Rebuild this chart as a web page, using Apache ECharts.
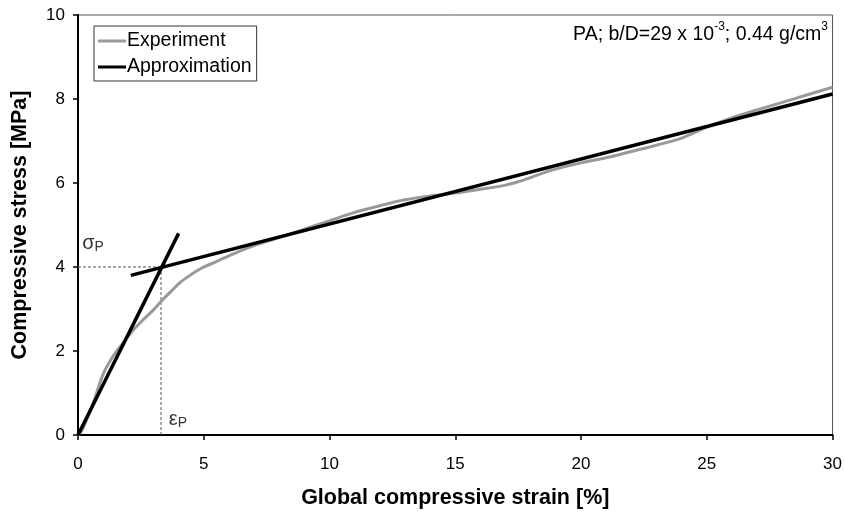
<!DOCTYPE html>
<html>
<head>
<meta charset="utf-8">
<script src="https://cdn.jsdelivr.net/npm/echarts@6/dist/echarts.min.js"></script>
<style>html,body{margin:0;padding:0;background:#fff}#c{width:845px;height:514px}</style>
</head>
<body>
<div id="c"></div>
<script>
var xTicks = [0, 5, 10, 15, 20, 25, 30];
var yTicks = [0, 2, 4, 6, 8, 10];
var experiment = [[0,0],[0.15,0.1],[0.3,0.3],[0.6,0.75],[1.0,1.45],[1.4,1.88],[1.8,2.2],[2.2,2.5],[2.6,2.75],[3.0,2.98],[3.3,3.18],[3.7,3.42],[4.1,3.65],[4.5,3.82],[4.9,3.97],[5.5,4.13],[6.2,4.32],[7.0,4.51],[8.0,4.7],[9.0,4.9],[10.0,5.1],[11.0,5.3],[12.0,5.46],[13.0,5.6],[14.0,5.69],[15.0,5.76],[16.0,5.85],[17.0,5.95],[17.5,6.03],[18.0,6.13],[18.8,6.3],[20.0,6.48],[21.0,6.6],[22.0,6.75],[23.0,6.9],[24.0,7.07],[25.0,7.33],[26.0,7.55],[27.0,7.74],[28.0,7.92],[29.0,8.1],[30.0,8.28]];
var approxElastic = [[0,0],[4.0,4.8]];
var approxPlastic = [[2.1,3.8],[30,8.12]];
var sigmaP = 4.0;
var epsP = 3.3;
var guideH = [[0, sigmaP],[epsP, sigmaP]];
var guideV = [[epsP, 0],[epsP, sigmaP]];

var chart = echarts.init(document.getElementById('c'));
var font = 'Liberation Sans, Arial, sans-serif';
chart.setOption({
  animation: false,
  textStyle: {fontFamily: font},
  grid: {left: 78, right: 12, top: 15, bottom: 76, show: true, borderColor: '#555', borderWidth: 1, backgroundColor: 'transparent'},
  legend: {
    left: 94, top: 26, orient: 'vertical', itemGap: 6,
    borderColor: '#333', borderWidth: 1, padding: [5, 5, 4, 4],
    itemWidth: 28, itemHeight: 3, icon: 'rect',
    textStyle: {fontSize: 19.5, color: '#000', fontFamily: font, padding: [0,0,0,-4]},
    data: ['Experiment', 'Approximation']
  },
  xAxis: {
    type: 'value', min: 0, max: 30, interval: 5,
    name: 'Global compressive strain [%]', nameLocation: 'middle', nameGap: 52,
    nameTextStyle: {fontSize: 21.5, fontWeight: 'bold', color: '#000', fontFamily: font},
    axisLine: {show: true, lineStyle: {color: '#000', width: 2}},
    axisTick: {show: true, length: 5, lineStyle: {color: '#000', width: 1.5}},
    axisLabel: {fontSize: 17, color: '#000', margin: 21, fontFamily: font, showMaxLabel: true,
      formatter: function (v) { return xTicks.indexOf(v) >= 0 ? String(v) : ''; }},
    splitLine: {show: false}
  },
  yAxis: {
    type: 'value', min: 0, max: 10, interval: 2,
    name: 'Compressive stress [MPa]', nameLocation: 'middle', nameGap: 47,
    nameTextStyle: {fontSize: 21.5, fontWeight: 'bold', color: '#000', fontFamily: font},
    axisLine: {show: true, lineStyle: {color: '#000', width: 2}},
    axisTick: {show: true, length: 5, lineStyle: {color: '#000', width: 1.5}},
    axisLabel: {fontSize: 17, color: '#000', margin: 13, fontFamily: font,
      formatter: function (v) { return yTicks.indexOf(v) >= 0 ? String(v) : ''; }},
    splitLine: {show: false}
  },
  graphic: [
    {type: 'text', right: 17, top: 21, style: {
      text: '{a|PA; b/D=29 x 10}{s|-3}{a|; 0.44 g/cm}{s|3}',
      rich: {a: {fontSize: 19.5, fontFamily: font, fill: '#000', verticalAlign: 'bottom', lineHeight: 24},
             s: {fontSize: 12, fontFamily: font, fill: '#000', verticalAlign: 'top', lineHeight: 24, padding: [0,0,12,0]}}
    }}
  ],
  series: [
    {name: 'guideH', type: 'line', data: guideH, symbol: 'none', silent: true, z: 1,
     lineStyle: {color: '#555', width: 1, type: [3, 2]}},
    {name: 'guideV', type: 'line', data: guideV, symbol: 'none', silent: true, z: 1,
     lineStyle: {color: '#555', width: 1, type: [3, 2]}},
    {name: 'Experiment', type: 'line', data: experiment, symbol: 'none', smooth: 0.3, z: 2,
     color: '#999', lineStyle: {color: '#999', width: 3}},
    {name: 'Approximation', type: 'line', data: approxElastic, symbol: 'none', z: 3,
     color: '#000', lineStyle: {color: '#000', width: 3.5}},
    {name: 'Approximation', type: 'line', data: approxPlastic, symbol: 'none', z: 3,
     color: '#000', lineStyle: {color: '#000', width: 3.5}},
    {name: 'labels', type: 'scatter', symbolSize: 0, silent: true, z: 4,
     data: [
       {value: [0, sigmaP], label: {show: true, position: 'inside', offset: [15, -24], formatter: '{g|σ}{sub|P}'}},
       {value: [epsP, 0], label: {show: true, position: 'inside', offset: [17, -16], formatter: '{g|ε}{sub|P}'}}
     ],
     label: {color: '#000', rich: {g: {fontSize: 20, fontFamily: font, color: '#000'}, sub: {fontSize: 14, fontFamily: font, color: '#000', padding: [8,0,0,0]}}}
    }
  ]
});
</script>
</body>
</html>
